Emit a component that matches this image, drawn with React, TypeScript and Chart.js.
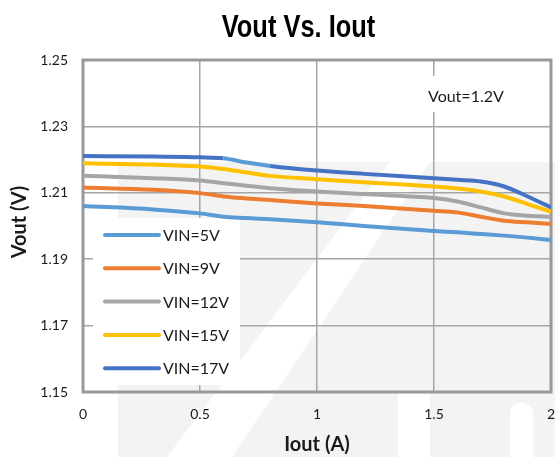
import React, { useEffect, useRef } from "react";
import { Chart, registerables } from "chart.js";

Chart.register(...registerables);

// ---- data ----
const iout = [0, 0.3, 0.5, 0.6, 0.7, 0.8, 1.0, 1.2, 1.5, 1.6, 1.7, 1.8, 1.9, 2.0];
const vin5V = [1.206, 1.205, 1.2038, 1.2028, 1.2024, 1.202, 1.2011, 1.2, 1.1985, 1.1981, 1.1976, 1.1971, 1.1965, 1.1958];
const vin9V = [1.2116, 1.2109, 1.2099, 1.2089, 1.2083, 1.2078, 1.2068, 1.206, 1.2046, 1.2041, 1.2028, 1.2016, 1.2011, 1.2006];
const vin12V = [1.2151, 1.2144, 1.2137, 1.2129, 1.2121, 1.2114, 1.2104, 1.2096, 1.2084, 1.2074, 1.2056, 1.2038, 1.2031, 1.2028];
const vin15V = [1.2189, 1.2185, 1.2179, 1.2172, 1.2161, 1.2151, 1.2141, 1.2132, 1.2119, 1.2113, 1.2104, 1.2089, 1.2066, 1.2043];
const vin17V = [1.2211, 1.2209, 1.2207, 1.2204, 1.2191, 1.2181, 1.2167, 1.2157, 1.2144, 1.2139, 1.2134, 1.2119, 1.2089, 1.2056];

const seriesLabels = ["VIN=5V", "VIN=9V", "VIN=12V", "VIN=15V", "VIN=17V"];
const seriesValues = [vin5V, vin9V, vin12V, vin15V, vin17V];
const seriesColors = ["#5B9BD5", "#ED7D31", "#A5A5A5", "#FFC000", "#4472C4"];

const xTicks = [0, 0.5, 1, 1.5, 2];
const yTicks = [1.15, 1.17, 1.19, 1.21, 1.23, 1.25];

const chartTitle = "Vout Vs. Iout";
const xTitle = "Iout (A)";
const yTitle = "Vout (V)";
const noteText = "Vout=1.2V";

const FONT = "Lato, 'Open Sans', sans-serif";

const decorPlugin = {
  id: "decor",
  beforeDraw(chart: any) {
    const ctx = chart.ctx;
    ctx.save();
    ctx.fillStyle = "#ffffff";
    ctx.fillRect(0, 0, chart.width, chart.height);
    // faint watermark
    ctx.fillStyle = "#f3f3f3";
    ctx.fillRect(118, 162, 437, 295);
    ctx.fillStyle = "#ffffff";
    ctx.beginPath();
    ctx.moveTo(167, 457);
    ctx.lineTo(232, 457);
    ctx.lineTo(430, 162);
    ctx.lineTo(390, 162);
    ctx.closePath();
    ctx.fill();
    ctx.beginPath();
    ctx.moveTo(398, 457);
    ctx.lineTo(398, 392);
    ctx.lineTo(430, 392);
    ctx.lineTo(430, 457);
    ctx.closePath();
    ctx.fill();
    ctx.beginPath();
    ctx.moveTo(510, 457);
    ctx.lineTo(510, 410);
    ctx.quadraticCurveTo(521, 395, 533, 410);
    ctx.lineTo(533, 457);
    ctx.closePath();
    ctx.fill();
    ctx.restore();
  },
  beforeDatasetsDraw(chart: any) {
    const ctx = chart.ctx;
    const a = chart.chartArea;
    ctx.save();
    ctx.fillStyle = "#ffffff";
    ctx.fillRect(420, 76, 96, 36);
    ctx.fillStyle = "#1a1a1a";
    ctx.font = "16px " + FONT;
    ctx.textAlign = "left";
    ctx.textBaseline = "middle";
    ctx.fillText(noteText, 428, 97);
    ctx.fillStyle = "#ffffff";
    ctx.fillRect(93, 218, 147, 167);
    seriesLabels.forEach((lab, i) => {
      const y = 235 + i * 33.3;
      ctx.strokeStyle = seriesColors[i];
      ctx.lineWidth = 4;
      ctx.lineCap = "round";
      ctx.beginPath();
      ctx.moveTo(105, y);
      ctx.lineTo(159, y);
      ctx.stroke();
      ctx.fillStyle = "#1a1a1a";
      ctx.font = "16px " + FONT;
      ctx.textAlign = "left";
      ctx.textBaseline = "middle";
      ctx.fillText(lab, 163, y + 1);
    });
    ctx.strokeStyle = "#999999";
    ctx.lineWidth = 3;
    ctx.lineCap = "butt";
    ctx.strokeRect(a.left, a.top, a.right - a.left, a.bottom - a.top);
    ctx.restore();
  },
  afterDraw(chart: any) {
    const ctx = chart.ctx;
    const a = chart.chartArea;
    ctx.save();
    ctx.fillStyle = "#000000";
    ctx.font = "bold 31px 'Liberation Sans', Arial, sans-serif";
    ctx.textAlign = "center";
    ctx.textBaseline = "alphabetic";
    ctx.translate(298.5, 37);
    ctx.scale(0.82, 1);
    ctx.fillText(chartTitle, 0, 0);
    ctx.restore();

    ctx.save();
    ctx.fillStyle = "#1a1a1a";
    ctx.font = "bold 20px " + FONT;
    ctx.textAlign = "center";
    ctx.textBaseline = "middle";
    ctx.fillText(xTitle, (a.left + a.right) / 2, 445);
    ctx.translate(20, 222);
    ctx.rotate(-Math.PI / 2);
    ctx.fillText(yTitle, 0, 0);
    ctx.restore();
  },
};

export default function App() {
  const ref = useRef<HTMLCanvasElement | null>(null);
  useEffect(() => {
    if (!ref.current) return;
    const chart = new Chart(ref.current, {
      type: "line",
      data: {
        datasets: seriesLabels.map((lab, i) => ({
          label: lab,
          data: iout.map((x, j) => ({ x, y: seriesValues[i][j] })),
          borderColor: seriesColors[i],
          backgroundColor: seriesColors[i],
          borderWidth: 4,
          pointRadius: 0,
          cubicInterpolationMode: "monotone",
          fill: false,
          segment:
            i === 4
              ? {
                  borderColor: (c: any) =>
                    c.p0.parsed.x >= 0.6 && c.p1.parsed.x <= 0.8 ? seriesColors[0] : undefined,
                }
              : undefined,
        })),
      },
      options: {
        responsive: false,
        animation: false,
        devicePixelRatio: 1,
        layout: { padding: { top: 60, right: 4, left: 0, bottom: 0 } },
        plugins: {
          legend: { display: false },
          title: { display: false },
          tooltip: { enabled: false },
        },
        scales: {
          x: {
            type: "linear",
            min: 0,
            max: 2,
            afterBuildTicks: (s: any) => {
              s.ticks = xTicks.map((v) => ({ value: v }));
            },
            afterFit: (s: any) => {
              s.height = 65;
              s.paddingLeft = 0;
              s.paddingRight = 0;
            },
            ticks: {
              padding: 14,
              color: "#1a1a1a",
              font: { family: FONT, size: 14 },
              maxRotation: 0,
              callback: (v: any) => String(v),
            },
            grid: { color: "#a6a6a6", lineWidth: 1.5, drawTicks: false },
            border: { display: false },
          },
          y: {
            type: "linear",
            min: 1.15,
            max: 1.25,
            afterBuildTicks: (s: any) => {
              s.ticks = yTicks.map((v) => ({ value: v }));
            },
            afterFit: (s: any) => {
              s.width = 83;
              s.paddingTop = 0;
              s.paddingBottom = 0;
            },
            ticks: {
              padding: 15,
              color: "#1a1a1a",
              font: { family: FONT, size: 14 },
              callback: (v: any) => Number(v).toFixed(2),
            },
            grid: { color: "#a6a6a6", lineWidth: 1.5, drawTicks: false },
            border: { display: false },
          },
        },
      },
      plugins: [decorPlugin],
    } as any);
    return () => chart.destroy();
  }, []);
  return (
    <div style={{ position: "absolute", left: 0, top: 0, width: 555, height: 457 }}>
      <canvas ref={ref} width={555} height={457} />
    </div>
  );
}
